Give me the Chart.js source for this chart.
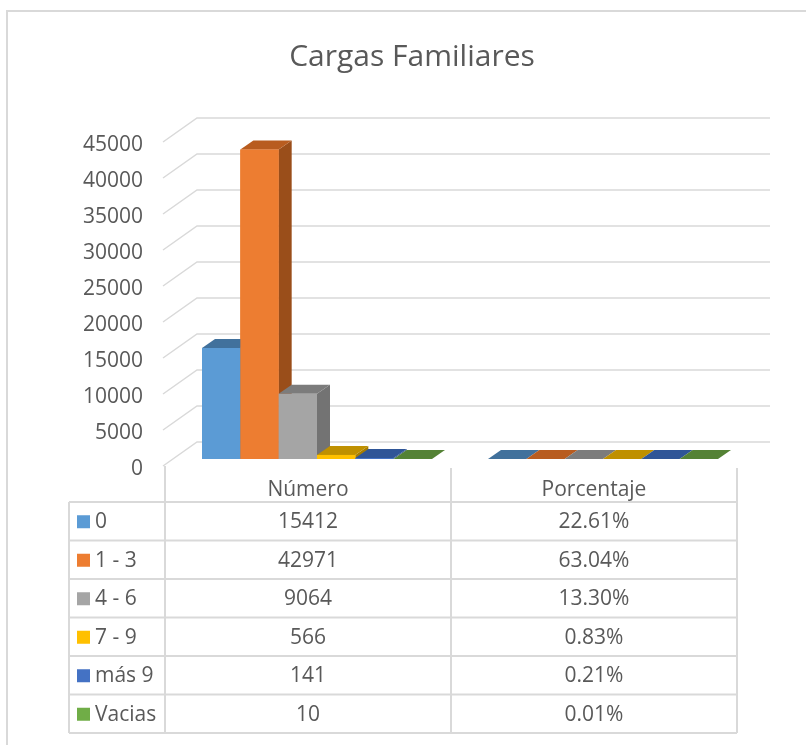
<!DOCTYPE html>
<html>
<head>
<meta charset="utf-8">
<script src="https://cdn.jsdelivr.net/npm/chart.js@4.4.1/dist/chart.umd.min.js"></script>
<style>
  html, body { margin: 0; padding: 0; background: #fff; }
  #wrap { width: 806px; height: 745px; }
</style>
</head>
<body>
<div id="wrap"><canvas id="chart" width="806" height="745"></canvas></div>
<script>
// data
const categories = ["Número", "Porcentaje"];
const seriesNames = ["0", "1 - 3", "4 - 6", "7 - 9", "más 9", "Vacias"];
const numero = [15412, 42971, 9064, 566, 141, 10];
const porcentaje = [0.2261, 0.6304, 0.1330, 0.0083, 0.0021, 0.0001];
const yTicks = [0, 5000, 10000, 15000, 20000, 25000, 30000, 35000, 40000, 45000];

const frontColors = ["#5B9BD5", "#ED7D31", "#A5A5A5", "#FFC000", "#4472C4", "#70AD47"];
const topColors = ["#41719C", "#B85C1F", "#7C7C7C", "#BF9000", "#2F5597", "#548235"];
const sideColors = ["#3B6890", "#9A4E1A", "#737373", "#A67D00", "#2A4D8A", "#4B7530"];

const TEXT = "#595959";
const LINE = "#d9d9d9";
const FONT = "'Open Sans', sans-serif";
const DX = 13, DY = 9;

// light grey walls: gridlines with a short diagonal on the left side
const wallGrid = {
    id: "wallGrid",
    beforeDatasetsDraw(chart) {
        const { ctx, chartArea, scales: { y } } = chart;
        ctx.save();
        ctx.strokeStyle = LINE;
        ctx.lineWidth = 1.5;
        y.ticks.forEach((t) => {
            const p = y.getPixelForValue(t.value);
            ctx.beginPath();
            ctx.moveTo(chartArea.left - 11, p + 7);
            ctx.lineTo(chartArea.left + 23, p - 17);
            ctx.lineTo(chartArea.right + 24, p - 17);
            ctx.stroke();
        });
        ctx.restore();
    },
};

// fake 3D columns: side, top then front, left to right
const columns3d = {
    id: "columns3d",
    afterDatasetsDraw(chart) {
        const { ctx } = chart;
        ctx.save();
        chart.data.datasets.forEach((ds, d) => {
            chart.getDatasetMeta(d).data.forEach((bar) => {
                const { x, y, base, width } = bar.getProps(["x", "y", "base", "width"], true);
                const l = x - width / 2, r = x + width / 2;
                ctx.fillStyle = sideColors[d];
                ctx.beginPath();
                ctx.moveTo(r, y);
                ctx.lineTo(r + DX, y - DY);
                ctx.lineTo(r + DX, base - DY);
                ctx.lineTo(r, base);
                ctx.closePath();
                ctx.fill();
                ctx.fillStyle = topColors[d];
                ctx.beginPath();
                ctx.moveTo(l, y);
                ctx.lineTo(l + DX, y - DY);
                ctx.lineTo(r + DX, y - DY);
                ctx.lineTo(r, y);
                ctx.closePath();
                ctx.fill();
                ctx.fillStyle = frontColors[d];
                ctx.fillRect(l, y, width, base - y);
            });
        });
        ctx.restore();
    },
};

// data table under the plot, plus the chart frame
const dataTable = {
    id: "dataTable",
    afterDraw(chart) {
        const { ctx, chartArea } = chart;
        const catW = (chartArea.right - chartArea.left) / categories.length;
        const x0 = 69;
        const x1 = chartArea.left - 9;
        const cols = [x1, x1 + catW, x1 + 2 * catW];
        const top = chartArea.bottom + 43;
        const rowH = 38.5;
        const bottom = top + rowH * seriesNames.length;

        ctx.save();
        ctx.strokeStyle = LINE;
        ctx.lineWidth = 2;
        // frame
        ctx.beginPath();
        ctx.moveTo(7, 760);
        ctx.lineTo(7, 11);
        ctx.lineTo(820, 11);
        ctx.stroke();

        ctx.beginPath();
        ctx.moveTo(x0, top);
        ctx.lineTo(x0, bottom);
        cols.forEach((cx, i) => {
            ctx.moveTo(cx, i === 0 ? chartArea.bottom + 7 : chartArea.bottom + 9);
            ctx.lineTo(cx, bottom);
        });
        for (let i = 0; i <= seriesNames.length; i++) {
            ctx.moveTo(x0, top + i * rowH);
            ctx.lineTo(cols[2], top + i * rowH);
        }
        ctx.stroke();

        ctx.fillStyle = TEXT;
        ctx.font = "21px " + FONT;
        ctx.textBaseline = "middle";
        ctx.textAlign = "center";
        categories.forEach((c, i) => {
            ctx.fillText(c, cols[i] + catW / 2, top - 12);
        });
        seriesNames.forEach((name, r) => {
            const cy = top + r * rowH + rowH / 2 + 1;
            ctx.fillStyle = frontColors[r];
            ctx.fillRect(77, cy - 7, 13, 13);
            ctx.fillStyle = TEXT;
            ctx.textAlign = "left";
            ctx.fillText(name, 95, cy);
            ctx.textAlign = "center";
            ctx.fillText(String(numero[r]), cols[0] + catW / 2, cy);
            ctx.fillText((porcentaje[r] * 100).toFixed(2) + "%", cols[1] + catW / 2, cy);
        });
        ctx.restore();
    },
};

new Chart(document.getElementById("chart"), {
    type: "bar",
    data: {
        labels: categories,
        datasets: seriesNames.map((name, i) => ({
            label: name,
            data: [numero[i], porcentaje[i]],
            backgroundColor: frontColors[i],
        })),
    },
    options: {
        responsive: false,
        animation: false,
        barPercentage: 1,
        categoryPercentage: 0.804,
        layout: { padding: { left: 78, right: 60, top: 39, bottom: 286 } },
        plugins: {
            legend: { display: false },
            tooltip: { enabled: false },
            title: {
                display: true,
                text: "Cargas Familiares",
                color: TEXT,
                font: { family: FONT, size: 30, weight: "normal" },
                padding: { top: 0, bottom: 60 },
            },
        },
        scales: {
            x: { display: false },
            y: {
                min: 0,
                max: 45000,
                afterBuildTicks: (s) => { s.ticks = yTicks.map((v) => ({ value: v })); },
                afterFit: (s) => { s.width = 96; },
                grid: { display: false, drawTicks: false },
                border: { display: false },
                ticks: {
                    color: TEXT,
                    font: { family: FONT, size: 21 },
                    padding: 31,
                    labelOffset: 10,
                    callback: (v) => String(v),
                },
            },
        },
    },
    plugins: [wallGrid, columns3d, dataTable],
});
</script>
</body>
</html>
